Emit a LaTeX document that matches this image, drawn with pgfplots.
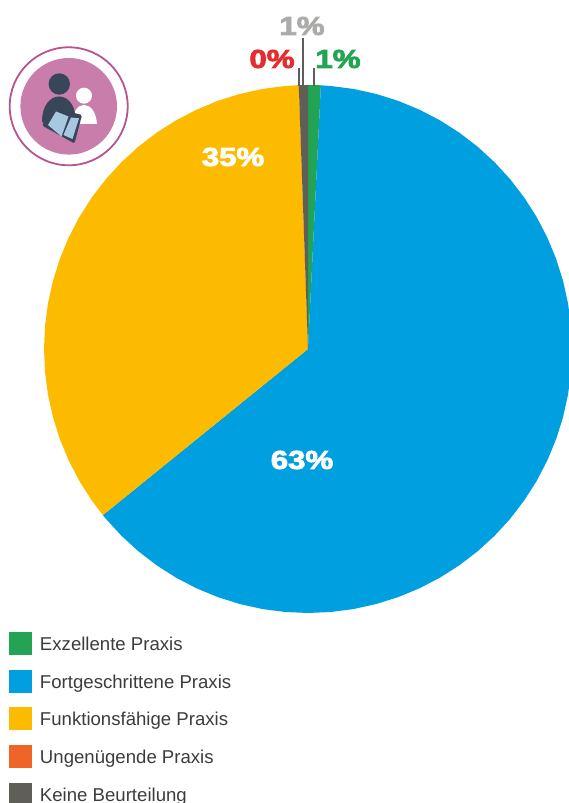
\documentclass[border=0pt]{standalone}
\usepackage{pgfplots}
\pgfplotsset{compat=1.18}
\usepackage{fontspec}
\setmainfont{Liberation Sans}
\newfontfamily\heavyfont[UprightFont={* Bold},FakeBold=2.8]{Liberation Sans}
\definecolor{cExc}{HTML}{23A455}
\definecolor{cFort}{HTML}{009FE0}
\definecolor{cFunk}{HTML}{FDBB00}
\definecolor{cUng}{HTML}{EF6528}
\definecolor{cKeine}{HTML}{5F5F58}
\definecolor{cLead}{HTML}{5D5D5D}
\definecolor{cRed}{HTML}{E52D2F}
\definecolor{cSilver}{HTML}{ABABA9}
\definecolor{cRing}{HTML}{B5548E}
\definecolor{cDisc}{HTML}{C87DAB}
\definecolor{cInk}{HTML}{38465A}
\definecolor{cPage}{HTML}{A8C8E0}
\definecolor{cText}{HTML}{3C3C3C}
\tikzset{pct/.style={font=\heavyfont\fontsize{26}{26}\selectfont,xscale=1.2,inner sep=0pt,anchor=center}}
\pgfplotsset{
  swatch/.style={legend image code/.code={\fill[#1] (0pt,-10.5pt) rectangle (23pt,12.5pt);}},
}
\begin{document}
\begin{tikzpicture}
\useasboundingbox (0,0) rectangle (569pt,803pt);
\clip (0,0) rectangle (569pt,803pt);
\begin{axis}[
  at={(0,0)}, anchor=south west,
  width=569pt, height=803pt, scale only axis,
  xmin=-308, xmax=261, ymin=-454, ymax=349,
  hide axis,
  legend cell align=left,
  legend style={draw=none, fill=none, at={(axis cs:-299,-283)}, anchor=north west,
    inner sep=0pt, outer sep=0pt, row sep=14.7pt, /tikz/column 1/.style={column sep=8pt},
    font=\fontsize{18.6}{18.6}\selectfont, text=cText,
    nodes={inner sep=0pt, outer sep=0pt}},
]
% Slices run clockwise from the top: angle in degrees, radius in axis units
\addplot[data cs=polar, fill=cExc, draw=none, swatch=cExc] coordinates {
  (0,0) (90,264) (89,264) (88,264) (87.2,264) (0,0)};
\addlegendentry{Exzellente Praxis}
\addplot[data cs=polar, fill=cFort, draw=none, swatch=cFort] coordinates {
  (0,0) (87.2,264) (85,264) (80,264) (75,264) (70,264) (65,264) (60,264) (55,264) (50,264)
  (45,264) (40,264) (35,264) (30,264) (25,264) (20,264) (15,264) (10,264) (5,264) (0,264)
  (-5,264) (-10,264) (-15,264) (-20,264) (-25,264) (-30,264) (-35,264) (-40,264) (-45,264)
  (-50,264) (-55,264) (-60,264) (-65,264) (-70,264) (-75,264) (-80,264) (-85,264) (-90,264)
  (-95,264) (-100,264) (-105,264) (-110,264) (-115,264) (-120,264) (-125,264) (-130,264)
  (-135,264) (-140,264) (-141,264) (0,0)};
\addlegendentry{Fortgeschrittene Praxis}
\addplot[data cs=polar, fill=cFunk, draw=none, swatch=cFunk] coordinates {
  (0,0) (219,264) (215,264) (210,264) (205,264) (200,264) (195,264) (190,264) (185,264)
  (180,264) (175,264) (170,264) (165,264) (160,264) (155,264) (150,264) (145,264) (140,264)
  (135,264) (130,264) (125,264) (120,264) (115,264) (110,264) (105,264) (100,264) (95,264)
  (92,264) (0,0)};
\addlegendentry{Funktionsfähige Praxis}
\addplot[data cs=polar, fill=cUng, draw=none, swatch=cUng] coordinates {
  (0,0) (92,264) (0,0)};
\addlegendentry{Ungenügende Praxis}
\addplot[data cs=polar, fill=cKeine, draw=none, swatch=cKeine] coordinates {
  (0,0) (92,264) (91,264) (90,264) (0,0)};
\addlegendentry{Keine Beurteilung}
% Leader lines from the narrow slices up to their labels
\addplot[cLead, line width=1.1pt, forget plot] coordinates {(-9,281) (-9,263)};
\addplot[cLead, line width=1.1pt, forget plot] coordinates {(-5,311) (-5,263)};
\addplot[cLead, line width=1.1pt, forget plot] coordinates {(6,281) (6,263)};
% Percentage labels
\node[pct, text=white] at (axis cs:-75,192) {35\%};
\node[pct, text=white] at (axis cs:-6,-111) {63\%};
\node[pct, text=cRed] at (axis cs:-36,290) {0\%};
\node[pct, text=cSilver] at (axis cs:-6,323) {1\%};
\node[pct, text=cExc] at (axis cs:30,290) {1\%};
\end{axis}
% Reader pictogram, drawn in page pixels with y growing downwards
\begin{scope}[x=1pt, y=-1pt, shift={(0pt,803pt)}]
  \draw[cRing, line width=1.8pt] (68.7,106.3) circle (59);
  \fill[cDisc] (68.7,106.3) circle (48.3);
  \fill[white] (84,95.7) circle (8);
  \fill[white] (72,123.8) .. controls (73,111) and (78,105) .. (84,105) .. controls (90,105) and (96,111) .. (97,123.8) -- cycle;
  \fill[cInk] (59.3,84) circle (10.7);
  \fill[cInk] (42,121) .. controls (42,106) and (50,96.5) .. (59,96.5) .. controls (68,96.5) and (75,105) .. (75.5,118) -- (75,130) -- (45,126) -- cycle;
  \fill[cInk, rounded corners=1.5pt] (42,125.5) -- (54.3,108) -- (82,115) -- (74.5,143.5) -- cycle;
  \fill[cPage] (48,125) -- (56,111.5) -- (68.5,116.5) -- (61.5,136.5) -- cycle;
  \fill[cPage] (63.5,135) -- (71,117.5) -- (79,118.3) -- (72.5,139) -- cycle;
\end{scope}
\end{tikzpicture}
\end{document}
